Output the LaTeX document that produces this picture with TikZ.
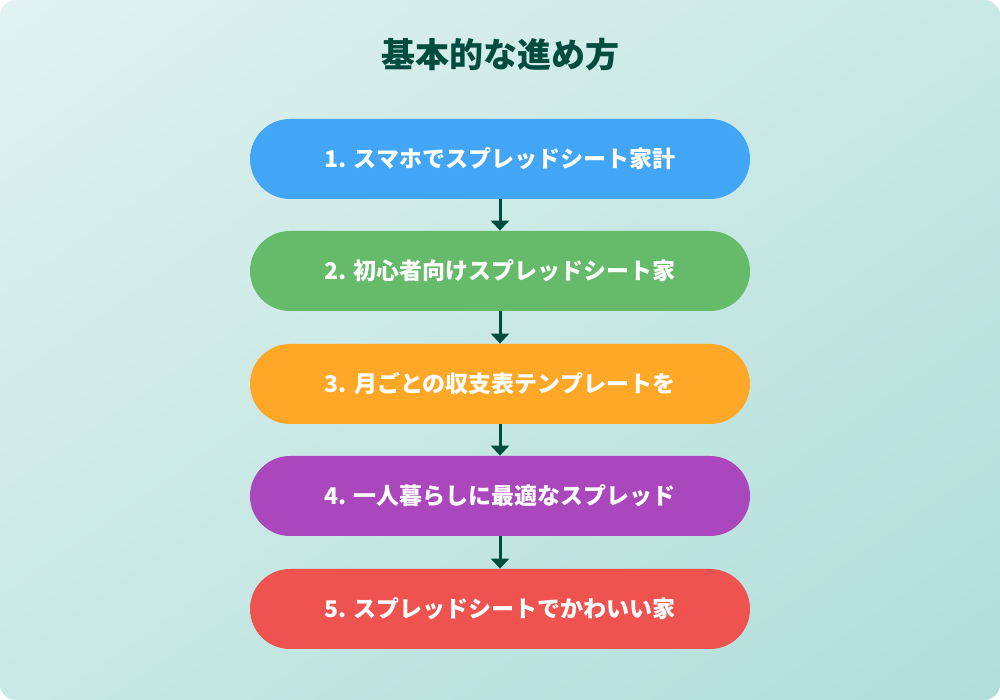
\documentclass[tikz,border=0pt]{standalone}
\usepackage{fontspec}
\setmainfont{Noto Sans CJK JP}
\usepackage{tikz}
\usetikzlibrary{arrows.meta,shadings}
\definecolor{bgtl}{RGB}{225,242,240}
\definecolor{bgbr}{RGB}{176,222,217}
\definecolor{bgmid}{RGB}{200,232,229}
\definecolor{dark}{RGB}{0,77,64}
\definecolor{stepblue}{RGB}{66,165,245}
\definecolor{stepgreen}{RGB}{102,187,106}
\definecolor{steporange}{RGB}{255,167,38}
\definecolor{steppurple}{RGB}{171,71,188}
\definecolor{stepred}{RGB}{239,83,80}

\begin{document}
\begin{tikzpicture}[x=0.5pt,y=0.5pt,
	stepbox/.style={minimum width=250pt,minimum height=40pt,rounded corners=20pt,text=white,font=\fontsize{11.5}{13}\selectfont\bfseries,inner sep=0pt},
	link/.style={draw=dark,line width=1.5pt,-{Triangle[width=9pt,length=5pt]}}]
			\useasboundingbox (0,0) rectangle (1000,700);
			\shade[rounded corners=8pt,upper left=bgtl,lower right=bgbr,upper right=bgmid,lower left=bgmid] (0,0) rectangle (1000,700);
			
			\coordinate (t) at (500,645);
			\coordinate (s1) at (500,541);
			\coordinate (s2) at (500,429);
			\coordinate (s3) at (500,316);
			\coordinate (s4) at (500,204);
			\coordinate (s5) at (500,91);
			
			\node (title) at (t) [text=dark,font=\fontsize{17}{20}\selectfont\bfseries]{基本的な進め方};
			
			\node (b1) at (s1) [stepbox,fill=stepblue]{1. スマホでスプレッドシート家計};
			\node (b2) at (s2) [stepbox,fill=stepgreen]{2. 初心者向けスプレッドシート家};
			\node (b3) at (s3) [stepbox,fill=steporange]{3. 月ごとの収支表テンプレートを};
			\node (b4) at (s4) [stepbox,fill=steppurple]{4. 一人暮らしに最適なスプレッド};
			\node (b5) at (s5) [stepbox,fill=stepred]{5. スプレッドシートでかわいい家};
			
			\draw[link] (b1) -- (b2);
			\draw[link] (b2) -- (b3);
			\draw[link] (b3) -- (b4);
			\draw[link] (b4) -- (b5);
		\end{tikzpicture}
\end{document}
